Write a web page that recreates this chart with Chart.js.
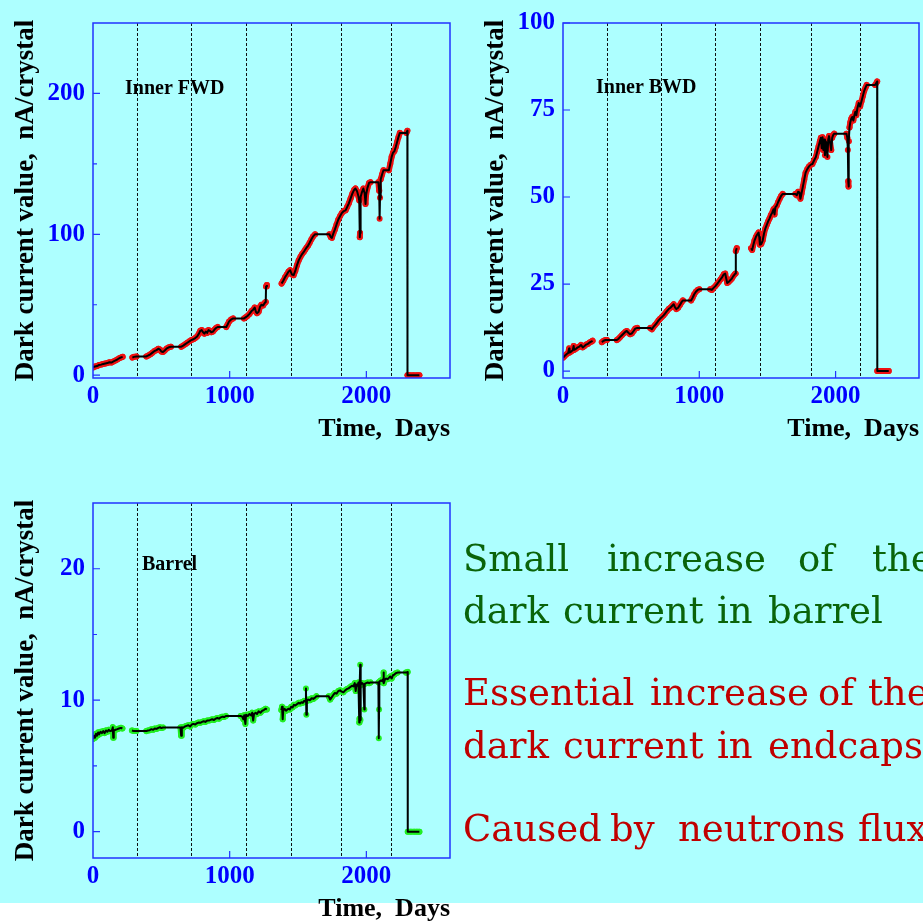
<!DOCTYPE html>
<html lang="en">
<head>
<meta charset="UTF-8">
<title>Dark current vs time</title>
<script src="https://cdn.jsdelivr.net/npm/chart.js"></script>
<style>
  html, body { margin: 0; padding: 0; background: #fff; overflow: hidden; }
  #page { position: relative; width: 923px; height: 922px; }
  #bg { position: absolute; left: 0; top: 0; width: 923px; height: 903px; background: #adffff; }
  canvas { position: absolute; }
  #notes { position: absolute; left: 0; top: 0; width: 923px; height: 903px; overflow: hidden; }
  .w { position: absolute; font-family: "DejaVu Serif", serif; font-size: 37px; line-height: 0; white-space: nowrap; }
</style>
</head>
<body>
<div id="page">
  <div id="bg"></div>
  <canvas id="fwd" width="460" height="460" style="left:0;top:0"></canvas>
  <canvas id="bwd" width="453" height="460" style="left:470px;top:0"></canvas>
  <canvas id="bar" width="460" height="460" style="left:0;top:480px"></canvas>
  <div id="notes"></div>
</div>
<script>
// days since start of running, dark current in nA/crystal (null = no data)
const fwdDays = [0, 15, 30, 45, 60, 75, 90, 105, 120, 135, 150, 165, 180, 195, 210, 217, 250,
  288, 300, 318, 390, 405, 420, 435, 450, 465, 478, 490, 500, 512, 525, 540, 555, 570, 646, 660, 675, 690, 705, 720, 735, 750, 762, 775, 785, 795, 805, 815, 825, 835, 845, 855, 865, 878, 890, 900, 912, 975, 985, 995, 1010, 1025, 1105, 1118, 1130, 1145, 1160, 1172, 1183, 1192, 1200, 1212, 1222, 1232, 1245, 1258, 1264, 1266, 1272, 1320,
  1380, 1392, 1405, 1418, 1430, 1442, 1455, 1468, 1480, 1492, 1505, 1518, 1530, 1542, 1552, 1562, 1574, 1585, 1598, 1610, 1625, 1730, 1740, 1748, 1758, 1770, 1782, 1795, 1808, 1820, 1835, 1848, 1860, 1872, 1885, 1898, 1910, 1920, 1932, 1942, 1948, 1952, 1954, 1958, 1968, 1978, 1988, 1994, 1998, 2008, 2020, 2030, 2088, 2094, 2097, 2100, 2105, 2115, 2125, 2165, 2175, 2185, 2195, 2205, 2215, 2225, 2235, 2245, 2293, 2300, 2301, 2320, 2345, 2370, 2388];
const fwdValues = [5.5, 6.2, 6.5, 7.3, 7.5, 8.0, 8.3, 8.6, 9.2, 9.0, 9.8, 10.5, 11.3, 12.2, 12.8, 13.0, null,
  12.5, 13.0, 13.3, 13.3, 14.0, 14.8, 16.0, 17.2, 17.8, 18.8, 18.2, 16.8, 16.5, 17.5, 19.0, 19.8, 20.2, 20.2, 21.0, 22.0, 23.0, 24.0, 25.0, 25.5, 26.5, 27.5, 29.5, 31.5, 32.0, 30.5, 29.5, 31.0, 30.0, 32.0, 31.5, 30.5, 31.0, 32.5, 33.5, 34.2, 34.2, 36.0, 38.0, 39.5, 40.3, 40.3, 41.2, 42.0, 43.5, 45.5, 46.5, 48.0, 45.0, 44.0, 45.0, 48.5, 50.0, 49.5, 51.5, 52.0, 63.0, 64.0, null,
  65.0, 67.0, 69.5, 71.5, 73.5, 74.5, 71.5, 71.0, 74.0, 78.0, 81.5, 84.0, 86.0, 87.5, 89.0, 90.5, 92.0, 94.0, 96.5, 98.5, 100.0, 100.0, 98.0, 97.5, 100.5, 103.5, 107.0, 110.5, 113.0, 115.0, 116.5, 117.0, 119.5, 122.0, 125.5, 129.0, 131.5, 132.5, 130.5, 127.0, 124.0, 98.0, 101.0, 126.5, 130.0, 132.5, 129.0, 121.5, 128.0, 133.0, 136.5, 137.0, 137.0, 131.0, 111.0, 126.0, 139.0, 142.5, 145.5, 145.5, 150.0, 155.0, 158.0, 159.0, 162.0, 165.5, 169.0, 172.0, 172.0, 173.5, 0, 0, 0, 0, 0];

const bwdDays = [0, 12, 25, 38, 45, 48, 60, 72, 78, 82, 95, 108, 120, 132, 145, 158, 170, 182, 195, 210, 217, 250,
  285, 298, 312, 322, 395, 408, 420, 432, 445, 458, 468, 480, 492, 505, 518, 530, 545, 640, 652, 662, 675, 688, 700, 712, 725, 738, 750, 762, 775, 788, 800, 812, 822, 832, 845, 858, 870, 880, 940, 950, 962, 975, 988, 1000, 1080, 1092, 1105, 1118, 1130, 1142, 1155, 1168, 1180, 1190, 1198, 1205, 1215, 1225, 1238, 1250, 1260, 1266, 1268, 1275, 1320,
  1380, 1388, 1395, 1405, 1415, 1425, 1435, 1440, 1445, 1455, 1465, 1475, 1485, 1495, 1505, 1515, 1525, 1535, 1545, 1552, 1558, 1568, 1578, 1590, 1600, 1612, 1705, 1715, 1725, 1735, 1742, 1750, 1760, 1770, 1780, 1792, 1805, 1818, 1830, 1842, 1855, 1865, 1875, 1885, 1892, 1898, 1904, 1910, 1916, 1922, 1928, 1934, 1940, 1946, 1952, 1960, 1968, 1975, 1982, 1990, 2080, 2086, 2090, 2093, 2095, 2098, 2102, 2108, 2115, 2122, 2130, 2138, 2145, 2152, 2160, 2170, 2180, 2190, 2200, 2210, 2220, 2228, 2290, 2305, 2306, 2325, 2350, 2375, 2390];
const bwdValues = [3.8, 4.3, 4.8, 5.2, 6.5, 5.3, 5.6, 6.0, 7.2, 6.1, 6.4, 6.8, 7.0, 7.5, 6.8, 7.2, 7.6, 7.8, 8.2, 8.5, 8.7, null,
  8.3, 8.7, 8.9, 8.9, 8.9, 9.3, 9.8, 10.3, 10.8, 11.3, 11.5, 11.0, 10.6, 10.8, 11.5, 12.2, 12.4, 12.4, 12.0, 12.6, 13.2, 13.8, 14.5, 15.0, 15.5, 16.0, 16.6, 17.2, 17.8, 18.2, 18.7, 19.2, 18.3, 17.8, 18.2, 19.0, 19.8, 20.3, 20.3, 21.0, 22.0, 22.8, 23.3, 23.5, 23.5, 23.3, 23.9, 24.4, 25.0, 25.6, 26.3, 27.0, 27.8, 28.0, 26.5, 25.3, 25.6, 26.0, 26.5, 27.3, 27.8, 28.0, 34.5, 35.3, null,
  35.3, 34.8, 36.0, 37.5, 38.5, 39.2, 39.8, 38.5, 36.3, 36.5, 37.5, 39.5, 41.0, 42.0, 43.0, 43.8, 44.8, 45.5, 46.5, 45.0, 47.0, 47.5, 48.5, 49.5, 50.3, 50.9, 50.9, 50.5, 51.5, 51.3, 49.5, 51.0, 53.0, 55.0, 57.0, 58.0, 58.8, 59.3, 59.5, 60.5, 61.5, 63.0, 64.5, 66.0, 67.0, 64.0, 67.2, 63.5, 66.5, 62.0, 66.0, 65.0, 61.5, 66.5, 67.5, 65.5, 63.5, 67.0, 67.8, 68.2, 68.2, 67.0, 63.5, 54.5, 53.0, 66.0, 70.0, 71.5, 72.5, 73.0, 72.0, 73.5, 74.5, 73.5, 75.5, 77.0, 76.0, 77.5, 79.0, 80.5, 81.5, 82.2, 82.2, 83.2, 0, 0, 0, 0, 0];

const barDays = [0, 8, 15, 22, 30, 38, 45, 55, 65, 75, 85, 95, 105, 115, 125, 138, 145, 148, 152, 165, 178, 190, 205, 215, 250,
  285, 300, 318, 390, 402, 415, 428, 440, 452, 465, 478, 490, 500, 512, 640, 645, 650, 660, 672, 685, 698, 710, 722, 735, 748, 760, 772, 785, 798, 810, 822, 835, 848, 860, 872, 885, 898, 910, 922, 935, 948, 960, 972, 1080, 1092, 1100, 1106, 1115, 1120, 1132, 1145, 1158, 1165, 1172, 1178, 1190, 1200, 1212, 1225, 1238, 1250, 1262, 1272, 1320,
  1378, 1383, 1388, 1392, 1402, 1412, 1422, 1432, 1440, 1450, 1460, 1470, 1480, 1492, 1505, 1515, 1525, 1535, 1545, 1555, 1558, 1561, 1565, 1575, 1588, 1600, 1612, 1625, 1635, 1725, 1735, 1745, 1758, 1770, 1782, 1795, 1808, 1820, 1832, 1845, 1858, 1870, 1882, 1895, 1905, 1915, 1922, 1928, 1935, 1942, 1948, 1950, 1952, 1955, 1957, 1960, 1970, 1978, 1985, 1988, 1998, 2010, 2020, 2030, 2088, 2091, 2093, 2095, 2105, 2115, 2122, 2126, 2128, 2135, 2145, 2155, 2165, 2175, 2185, 2195, 2205, 2215, 2228, 2290, 2302, 2303, 2325, 2350, 2370, 2388];
const barValues = [7.05, 7.3, 7.15, 7.45, 7.3, 7.55, 7.4, 7.6, 7.5, 7.65, 7.5, 7.7, 7.6, 7.75, 7.65, 7.7, 7.95, 7.15, 7.7, 7.75, 7.8, 7.85, 7.9, 7.85, null,
  7.7, 7.65, 7.65, 7.65, 7.7, 7.72, 7.8, 7.75, 7.85, 7.82, 7.9, 7.95, 7.88, 7.92, 7.92, 7.3, 7.95, 7.9, 8.0, 8.05, 8.1, 8.0, 8.15, 8.2, 8.15, 8.25, 8.3, 8.28, 8.35, 8.4, 8.35, 8.45, 8.45, 8.5, 8.55, 8.5, 8.6, 8.65, 8.6, 8.7, 8.75, 8.72, 8.8, 8.8, 8.75, 8.55, 8.85, 8.2, 8.9, 8.8, 8.95, 8.85, 9.05, 8.45, 8.95, 9.05, 8.95, 9.15, 9.05, 9.2, 9.25, 9.35, 9.3, null,
  9.25, 9.5, 8.55, 9.2, 9.35, 9.2, 9.3, 9.35, 9.3, 9.5, 9.45, 9.65, 9.6, 9.7, 9.8, 9.75, 9.85, 9.8, 9.95, 9.9, 10.9, 8.9, 9.95, 10.05, 10.0, 10.15, 10.1, 10.2, 10.3, 10.3, 10.05, 10.2, 10.4, 10.55, 10.5, 10.7, 10.75, 10.65, 10.6, 10.75, 10.85, 10.9, 11.0, 11.1, 11.05, 11.3, 10.7, 11.2, 11.1, 11.35, 8.3, 8.6, 11.1, 12.7, 8.5, 11.2, 11.3, 11.2, 9.3, 11.25, 11.3, 11.35, 11.3, 11.35, 11.35, 7.1, 9.3, 11.4, 11.5, 11.45, 11.6, 12.1, 11.3, 11.55, 11.65, 11.6, 11.7, 11.8, 11.65, 11.9, 11.95, 12.05, 12.1, 12.1, 12.15, 0, 0, 0, 0, 0];

// run period boundaries (dotted lines), days
const runBoundaries = [320, 719, 1117, 1446, 1816, 2178];
const xTicks = [0, 1000, 2000];
const fwdTicks = [0, 100, 200], fwdMinor = [50, 150];
const bwdTicks = [0, 25, 50, 75, 100], bwdMinor = [];
const barTicks = [0, 10, 20], barMinor = [5, 15];

const BLUE = '#0000ff';
const AXIS = '#2233ff';
const serif = "'Liberation Serif', 'Times New Roman', serif";

const toPoints = (days, vals) => days.map((d, i) => ({ x: d, y: vals[i] }));

// halo only on densely measured stretches, not on long interpolated or vertical jumps
function hideHalo(ctx) {
  const dx = ctx.p1.parsed.x - ctx.p0.parsed.x;
  const dy = Math.abs(ctx.p1.y - ctx.p0.y);
  return (dx > 35 || dy > 12) ? 'rgba(0,0,0,0)' : undefined;
}

const framePlugin = {
  id: 'frame',
  beforeDatasetsDraw(chart) {
    const { ctx, chartArea: a, scales: { x } } = chart;
    ctx.save();
    ctx.strokeStyle = '#111';
    ctx.lineWidth = 1;
    ctx.setLineDash([3, 2]);
    runBoundaries.forEach(d => {
      const px = Math.round(x.getPixelForValue(d)) + 0.5;
      ctx.beginPath();
      ctx.moveTo(px, a.top);
      ctx.lineTo(px, a.bottom);
      ctx.stroke();
    });
    ctx.restore();
  },
  afterDraw(chart, args, opts) {
    const { ctx, chartArea: a, scales: { x, y } } = chart;
    ctx.save();
    ctx.strokeStyle = AXIS;
    ctx.lineWidth = 1.5;
    ctx.strokeRect(a.left, a.top, a.right - a.left, a.bottom - a.top);
    ctx.lineWidth = 1.2;
    ctx.beginPath();
    opts.major.forEach(v => {
      const py = y.getPixelForValue(v);
      ctx.moveTo(a.left, py); ctx.lineTo(a.left + 7, py);
    });
    opts.minor.forEach(v => {
      const py = y.getPixelForValue(v);
      ctx.moveTo(a.left, py); ctx.lineTo(a.left + 4, py);
    });
    xTicks.slice(1).forEach(v => {
      const px = x.getPixelForValue(v);
      ctx.moveTo(px, a.bottom); ctx.lineTo(px, a.bottom - 7);
    });
    ctx.stroke();
    ctx.fillStyle = '#000';
    ctx.font = "bold 20px " + serif;
    ctx.textBaseline = 'alphabetic';
    ctx.fillText(opts.label, a.left + opts.labelDx, a.top + opts.labelDy);
    ctx.restore();
  }
};

function makeChart(id, days, vals, halo, yMin, yMax, major, minor, label, labelDx, labelDy, padRight) {
  const pts = toPoints(days, vals);
  new Chart(document.getElementById(id), {
    type: 'line',
    data: {
      datasets: [
        { data: pts, borderColor: '#000', borderWidth: 2, pointRadius: 0, order: 0, spanGaps: false,
          borderJoinStyle: 'round' },
        { data: pts, borderColor: halo, borderWidth: 6, pointRadius: 3, pointBorderWidth: 0,
          pointBackgroundColor: halo, order: 1, spanGaps: false,
          borderJoinStyle: 'round', borderCapStyle: 'round', segment: { borderColor: hideHalo } }
      ]
    },
    options: {
      responsive: false,
      animation: false,
      layout: { padding: { top: 21, right: padRight, left: 0, bottom: 0 } },
      plugins: {
        legend: { display: false },
        tooltip: { enabled: false },
        frame: { major: major, minor: minor, label: label, labelDx: labelDx, labelDy: labelDy }
      },
      scales: {
        x: {
          type: 'linear', min: 0, max: 2612,
          afterBuildTicks: s => { s.ticks = xTicks.map(v => ({ value: v })); },
          afterFit: s => { s.height = 82; },
          grid: { display: false, drawTicks: false },
          border: { display: false },
          ticks: { color: BLUE, font: { family: serif, size: 25, weight: 'bold' }, padding: 4, maxRotation: 0,
                   callback: v => String(v) },
          title: { display: true, text: 'Time,  Days', align: 'end', color: '#000',
                   font: { family: serif, size: 26, weight: 'bold' }, padding: { top: 0, bottom: 15 } }
        },
        y: {
          type: 'linear', min: yMin, max: yMax,
          afterBuildTicks: s => { s.ticks = major.map(v => ({ value: v })); },
          afterFit: s => { s.width = 93; },
          grid: { display: false, drawTicks: false },
          border: { display: false },
          ticks: { color: BLUE, font: { family: serif, size: 25, weight: 'bold' }, padding: 8,
                   callback: v => String(v) },
          title: { display: true, text: 'Dark current value,  nA/crystal', color: '#000',
                   font: { family: serif, size: 27, weight: 'bold' }, padding: { top: 10, bottom: 0 } }
        }
      }
    },
    plugins: [framePlugin]
  });
}

makeChart('fwd', fwdDays, fwdValues, '#ee1111', -2, 250, fwdTicks, fwdMinor, 'Inner FWD', 32, 71, 10);
makeChart('bwd', bwdDays, bwdValues, '#ee1111', -2, 100, bwdTicks, bwdMinor, 'Inner BWD', 33, 70, 2);
makeChart('bar', barDays, barValues, '#22ee22', -2, 25, barTicks, barMinor, 'Barrel', 49, 67, 10);

// side notes: each word at its left edge, baseline per line
const noteLines = [
  { color: '#0a640a', base: 571.7, words: ['Small', 'increase', 'of', 'the'], lefts: [463, 607, 798, 872] },
  { color: '#0a640a', base: 623.3, words: ['dark', 'current', 'in', 'barrel'], lefts: [463, 563, 717, 768] },
  { color: '#c00000', base: 706, words: ['Essential', 'increase', 'of', 'the'], lefts: [463, 650, 818, 868] },
  { color: '#c00000', base: 758.3, words: ['dark', 'current', 'in', 'endcaps'], lefts: [463, 563, 717, 768] },
  { color: '#c00000', base: 841.7, words: ['Caused', 'by', 'neutrons', 'flux'], lefts: [463, 610, 678, 858] }
];
const notes = document.getElementById('notes');
noteLines.forEach(line => {
  line.words.forEach((w, i) => {
    const s = document.createElement('span');
    s.className = 'w';
    s.textContent = w;
    s.style.color = line.color;
    s.style.left = line.lefts[i] + 'px';
    s.style.top = (line.base - 12.8) + 'px';
    notes.appendChild(s);
  });
});
</script>
</body>
</html>
